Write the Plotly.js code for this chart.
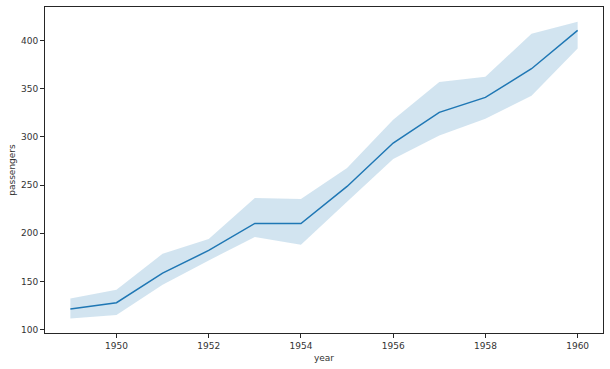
<!DOCTYPE html>
<html>
<head>
<meta charset="utf-8">
<script src="https://cdn.plot.ly/plotly-3.0.1.min.js"></script>
<style>html,body{margin:0;padding:0;background:#fff;}#chart{width:610px;height:369px;}</style>
</head>
<body>
<div id="chart"></div>
<script>
const years = [1949,1950,1951,1952,1953,1954,1955,1956,1957,1958,1959,1960];
const passengers = [121.5,128,158.8,182.2,210.2,210.2,248.6,293.6,325.4,341,370.7,410.4];
const ciLower = [111.7,115.2,146.7,171.9,196.1,188.1,232.7,277,301.5,318.8,342.7,391.7];
const ciUpper = [132.5,141.5,178.8,194,236.6,235.5,267.7,317.8,356.8,362.4,407,419.4];
const xTicks = [1950,1952,1954,1956,1958,1960];
const yTicks = [100,150,200,250,300,350,400];

const blue = '#1f77b4';
const traces = [
  {x: years, y: ciLower, type: 'scatter', mode: 'lines', line: {width: 0, color: blue}, hoverinfo: 'skip', showlegend: false},
  {x: years, y: ciUpper, type: 'scatter', mode: 'lines', fill: 'tonexty', fillcolor: 'rgba(31,119,180,0.2)', line: {width: 0, color: blue}, hoverinfo: 'skip', showlegend: false},
  {x: years, y: passengers, type: 'scatter', mode: 'lines', line: {width: 1.5, color: blue}, showlegend: false}
];
const txt = '#333333';
const axisCommon = {
  showline: true, mirror: true, linecolor: '#262626', linewidth: 1,
  ticks: 'outside', ticklen: 4, tickwidth: 1, tickcolor: '#262626',
  showgrid: false, zeroline: false,
  tickfont: {family: 'DejaVu Sans, sans-serif', size: 9, color: txt},
  automargin: false
};
const layout = {
  width: 610, height: 369,
  margin: {l: 45, r: 7, t: 7, b: 36},
  paper_bgcolor: '#fff', plot_bgcolor: '#fff',
  showlegend: false,
  xaxis: Object.assign({}, axisCommon, {
    range: [1948.45, 1960.55], tickvals: xTicks, ticktext: xTicks.map(String),
    title: {text: 'year', font: {family: 'DejaVu Sans, sans-serif', size: 9, color: txt}, standoff: 4}
  }),
  yaxis: Object.assign({}, axisCommon, {
    range: [96.6, 434.7], tickvals: yTicks, ticktext: yTicks.map(String),
    title: {text: 'passengers', font: {family: 'DejaVu Sans, sans-serif', size: 9, color: txt}, standoff: 3}
  })
};
Plotly.newPlot('chart', traces, layout, {displayModeBar: false, staticPlot: true});
</script>
</body>
</html>
